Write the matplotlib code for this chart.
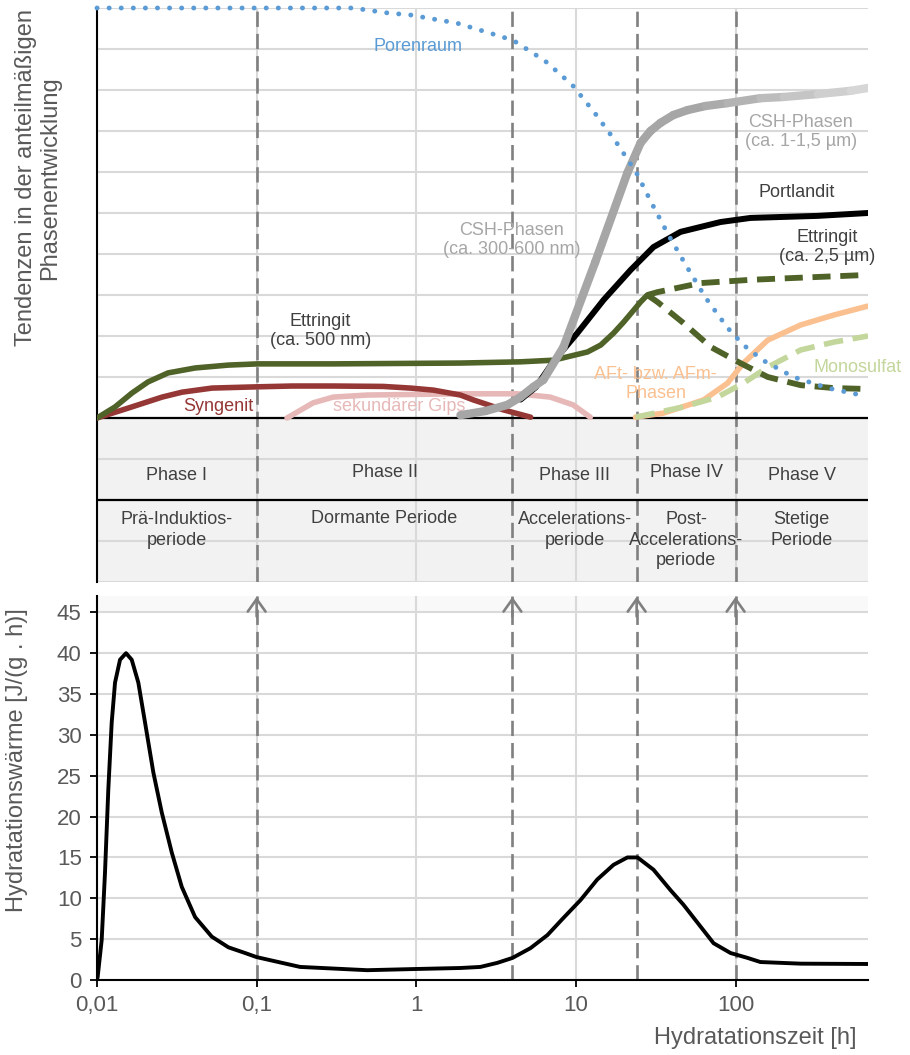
import numpy as np
import matplotlib.pyplot as plt
from matplotlib.collections import LineCollection
from matplotlib.colors import to_rgb

plt.rcParams['font.family'] = ['Liberation Sans', 'DejaVu Sans']
plt.rcParams['lines.scale_dashes'] = False

# ---- time axis / phases ----
t_min, t_max = 0.01, 675
phase_bounds = [0.01, 0.1, 4, 24, 100, 675]
phase_names = ['Phase I', 'Phase II', 'Phase III', 'Phase IV', 'Phase V']
period_names = ['Prä-Induktios-\nperiode', 'Dormante Periode', 'Accelerations-\nperiode',
                'Post-\nAccelerations-\nperiode', 'Stetige\nPeriode']
phase_y = [-1.41, -1.32, -1.41, -1.34, -1.41]
period_y = [-2.73, -2.44, -2.73, -2.98, -2.73]
xtick_vals = [0.01, 0.1, 1, 10, 100]
xtick_labels = ['0,01', '0,1', '1', '10', '100']
heat_ticks = [0, 5, 10, 15, 20, 25, 30, 35, 40, 45]

# ---- phase development curves (relative units 0..10) ----
poren_t = [0.01, 0.4, 0.66, 0.92, 1.28, 1.8, 3.5, 4.2, 6.4, 9.5, 13, 18, 24, 30, 38, 50,
           65, 89, 112, 148, 230, 380, 640]
poren_v = [10, 10, 9.88, 9.83, 9.73, 9.63, 9.29, 9.17, 8.71, 8.12, 7.46, 6.71, 5.97, 5.22,
           4.46, 3.66, 2.93, 2.2, 1.78, 1.41, 1.0, 0.73, 0.54]

csh_t = [1.89, 2.71, 3.72, 4.49, 5.42, 6.25, 8.35, 13.2, 21.0, 25.4, 29.3, 33.9, 40.8, 50,
         64.9, 89, 143, 200, 327, 526, 675]
csh_v = [0.07, 0.17, 0.32, 0.51, 0.76, 0.93, 1.73, 3.80, 5.98, 6.71, 7.0, 7.2, 7.39, 7.51,
         7.61, 7.68, 7.80, 7.83, 7.9, 7.98, 8.05]

port_t = [4.5, 5.6, 7.23, 10.2, 14.9, 22, 30.6, 45.2, 80.5, 124, 327, 675]
port_v = [0.45, 0.75, 1.38, 2.07, 2.88, 3.61, 4.17, 4.54, 4.78, 4.88, 4.93, 5.0]

ett_t = [0.01, 0.01297, 0.01657, 0.02088, 0.02787, 0.04116, 0.06627, 0.1015, 0.3, 1.89,
         4.49, 7.23, 11.8, 14.3, 17.2, 19.9, 23.0, 25.4, 28]
ett_v = [0, 0.27, 0.61, 0.88, 1.1, 1.22, 1.29, 1.32, 1.32, 1.34, 1.37, 1.41, 1.61, 1.78,
         2.07, 2.34, 2.63, 2.83, 3.0]
ett_up_t = [28, 32.4, 60, 124, 327, 675]
ett_up_v = [3.0, 3.07, 3.29, 3.37, 3.44, 3.49]
ett_down_t = [28, 32.4, 47, 70, 107, 159, 256, 411, 635]
ett_down_v = [3.0, 2.83, 2.32, 1.73, 1.34, 1.0, 0.8, 0.73, 0.71]

syn_t = [0.01, 0.01564, 0.02557, 0.0341, 0.0526, 0.1, 0.167, 0.302, 0.62, 0.917, 1.28,
         1.89, 2.28, 3.5, 5.2]
syn_v = [0, 0.24, 0.51, 0.63, 0.73, 0.76, 0.78, 0.78, 0.77, 0.73, 0.68, 0.56, 0.44, 0.2,
         0.02]

gips_t = [0.155, 0.226, 0.302, 0.493, 1.89, 4.3, 6.9, 9.6, 12.3]
gips_v = [0, 0.37, 0.51, 0.56, 0.59, 0.59, 0.51, 0.32, 0.02]

aft_t = [23.6, 35.4, 63, 89, 112, 159, 256, 411, 675]
aft_v = [0.02, 0.12, 0.44, 0.85, 1.34, 1.9, 2.27, 2.51, 2.73]

mono_t = [23.6, 47, 77, 112, 159, 256, 411, 675]
mono_v = [0.02, 0.27, 0.51, 0.85, 1.24, 1.66, 1.85, 2.0]

# ---- heat of hydration [J/(g h)] ----
heat_t = [0.01, 0.0101, 0.0107, 0.01122, 0.01177, 0.01236, 0.01297, 0.01394, 0.0152,
          0.0165, 0.01815, 0.02, 0.02254, 0.02545, 0.0294, 0.03396, 0.04116, 0.05238,
          0.06657, 0.08472, 0.1, 0.187, 0.493, 1.01, 1.89, 2.52, 3.22, 4.0, 5.19, 6.63,
          8.35, 10.7, 13.6, 17.2, 21.0, 24.3, 30.6, 39.1, 47.2, 57.8, 72.8, 93, 119, 143,
          256, 675]
heat_v = [0, 0.4, 4.9, 13.1, 23.3, 31.5, 36.4, 39.2, 40.0, 39.2, 36.4, 31.5, 25.4, 20.5,
          15.6, 11.4, 7.7, 5.3, 4.0, 3.3, 2.8, 1.6, 1.2, 1.35, 1.47, 1.6, 2.1, 2.7, 3.9,
          5.5, 7.6, 9.8, 12.3, 14.1, 15.0, 15.0, 13.5, 11.0, 9.2, 7.0, 4.5, 3.3, 2.7, 2.2,
          2.0, 1.96]

GRID = '#d9d9d9'
DASH = '#808080'
TXT = '#404040'
TICK = '#595959'

fig = plt.figure(figsize=(9.1, 10.55), dpi=100)
ax = fig.add_axes([97 / 910, 1 - 582 / 1055, 771 / 910, 574 / 1055])
axb = fig.add_axes([97 / 910, 1 - 980 / 1055, 771 / 910, 384 / 1055])

# ---- top panel ----
ax.set_xscale('log')
ax.set_xlim(t_min, t_max)
ax.set_ylim(-4, 10)
ax.set_xticks(xtick_vals)
ax.xaxis.set_minor_locator(plt.NullLocator())
ax.set_yticks(np.arange(-4, 11))
ax.tick_params(length=0, labelbottom=False, labelleft=False)
ax.set_axisbelow(True)
ax.grid(True, color=GRID, lw=1.5)
for s in ['top', 'right', 'bottom']:
    ax.spines[s].set_visible(False)
ax.spines['left'].set_color('black')
ax.spines['left'].set_linewidth(1.5)

ax.axhspan(-4, 0, color='#f2f2f2', zorder=0.1, lw=0)
ax.axhline(0, color='black', lw=1.6, zorder=2)
ax.axhline(-2, color='black', lw=1.6, zorder=2)
for b in phase_bounds[1:-1]:
    ax.axvline(b, color=DASH, lw=1.9, ls=(0, (11, 5)), zorder=1.5)

LW = 4.0
ax.plot(gips_t, gips_v, color='#e6b9b8', lw=LW, solid_capstyle='round', zorder=3)
ax.plot(syn_t, syn_v, color='#953735', lw=LW, solid_capstyle='round', zorder=3.1)
ax.plot(ett_t, ett_v, color='#4f6228', lw=LW, solid_capstyle='round', zorder=3.2)
ax.plot(port_t, port_v, color='black', lw=4.3, solid_capstyle='round', zorder=3.3)
ax.plot(aft_t, aft_v, color='#fac090', lw=LW, solid_capstyle='round', zorder=3.4)
ax.plot(mono_t, mono_v, color='#c3d69b', lw=LW, ls=(0, (14, 7)), zorder=3.5)
ax.plot(ett_up_t, ett_up_v, color='#4f6228', lw=4.2, ls=(0, (13, 7)), zorder=3.6)
ax.plot(ett_down_t, ett_down_v, color='#4f6228', lw=4.2, ls=(0, (13, 7)), zorder=3.6)

# CSH with a light gradient towards the right end
pts = np.column_stack([np.array(csh_t), np.array(csh_v)])
segs = np.stack([pts[:-1], pts[1:]], axis=1)
c0, c1 = np.array(to_rgb('#a6a6a6')), np.array(to_rgb('#d9d9d9'))
mid = np.sqrt(np.array(csh_t[:-1]) * np.array(csh_t[1:]))
frac = np.clip((np.log10(mid) - np.log10(60)) / (np.log10(675) - np.log10(60)), 0, 1)
cols = [c0 + (c1 - c0) * f for f in frac]
lc = LineCollection(segs, colors=cols, linewidths=6.0, capstyle='round', joinstyle='round',
                    zorder=3.8)
ax.add_collection(lc)

ax.plot(poren_t, poren_v, color='#5b9bd5', lw=3.5, ls=(0, (0.1, 8.6)),
        dash_capstyle='round', zorder=4, clip_on=False)

ax.text(1.02, 9.07, 'Porenraum', color='#5b9bd5', fontsize=13, ha='center', va='center')
ax.text(3.94, 4.34, 'CSH-Phasen\n(ca. 300-600 nm)', color='#a6a6a6', fontsize=13,
        ha='center', va='center')
ax.text(256, 6.98, 'CSH-Phasen\n(ca. 1-1,5 µm)', color='#a6a6a6', fontsize=13,
        ha='center', va='center')
ax.text(241, 5.49, 'Portlandit', color=TXT, fontsize=13, ha='center', va='center')
ax.text(372, 4.17, 'Ettringit\n(ca. 2,5 µm)', color=TXT, fontsize=13, ha='center',
        va='center')
ax.text(0.25, 2.12, 'Ettringit\n(ca. 500 nm)', color=TXT, fontsize=13, ha='center',
        va='center')
ax.text(0.0574, 0.27, 'Syngenit', color='#953735', fontsize=13, ha='center', va='center')
ax.text(0.78, 0.29, 'sekundärer Gips', color='#e6b9b8', fontsize=13, ha='center',
        va='center')
ax.text(31.5, 0.83, 'AFt- bzw. AFm-\nPhasen', color='#fac090', fontsize=13, ha='center',
        va='center')
ax.text(582, 1.24, 'Monosulfat', color='#c3d69b', fontsize=13, ha='center', va='center')

for i in range(len(phase_names)):
    xc = np.sqrt(phase_bounds[i] * phase_bounds[i + 1])
    ax.text(xc, phase_y[i], phase_names[i], color=TXT, fontsize=13, ha='center',
            va='center')
    ax.text(xc, period_y[i], period_names[i], color=TXT, fontsize=13, ha='center',
            va='center', linespacing=1.25)

# ---- bottom panel ----
axb.set_xscale('log')
axb.set_xlim(t_min, t_max)
axb.set_ylim(0, 47)
axb.set_xticks(xtick_vals, xtick_labels)
axb.xaxis.set_minor_locator(plt.NullLocator())
axb.set_yticks(heat_ticks)
axb.set_axisbelow(True)
axb.grid(True, color=GRID, lw=1.5)
axb.axhspan(45, 47, color='#f9f9f9', zorder=0.1, lw=0)
for s in ['top', 'right']:
    axb.spines[s].set_visible(False)
for s in ['left', 'bottom']:
    axb.spines[s].set_color('black')
    axb.spines[s].set_linewidth(1.5)
axb.tick_params(labelsize=16, labelcolor=TICK, color='black', length=5, width=1.3, pad=6)

for b in phase_bounds[1:-1]:
    axb.axvline(b, color=DASH, lw=1.9, ls=(0, (11, 5)), zorder=1.5)
    axb.annotate('', xy=(b, 46.9), xytext=(b, 44.5),
                 arrowprops=dict(arrowstyle='->,head_length=0.45,head_width=0.32',
                                 color=DASH, lw=1.9, mutation_scale=20,
                                 shrinkA=0, shrinkB=0))

axb.plot(heat_t, heat_v, color='black', lw=2.8, zorder=3, solid_joinstyle='round')

fig.text(38 / 910, 1 - 178 / 1055, 'Tendenzen in der anteilmäßigen\nPhasenentwicklung',
         rotation=90, ha='center', va='center', color=TICK, fontsize=17,
         multialignment='center', linespacing=1.15)
fig.text(17 / 910, 1 - 760 / 1055, 'Hydratationswärme [J/(g . h)]', rotation=90,
         ha='center', va='center', color=TICK, fontsize=17)
fig.text(857 / 910, 1 - 1038 / 1055, 'Hydratationszeit [h]', ha='right', va='center',
         color=TICK, fontsize=17)

fig.savefig('out.png', dpi=100)
